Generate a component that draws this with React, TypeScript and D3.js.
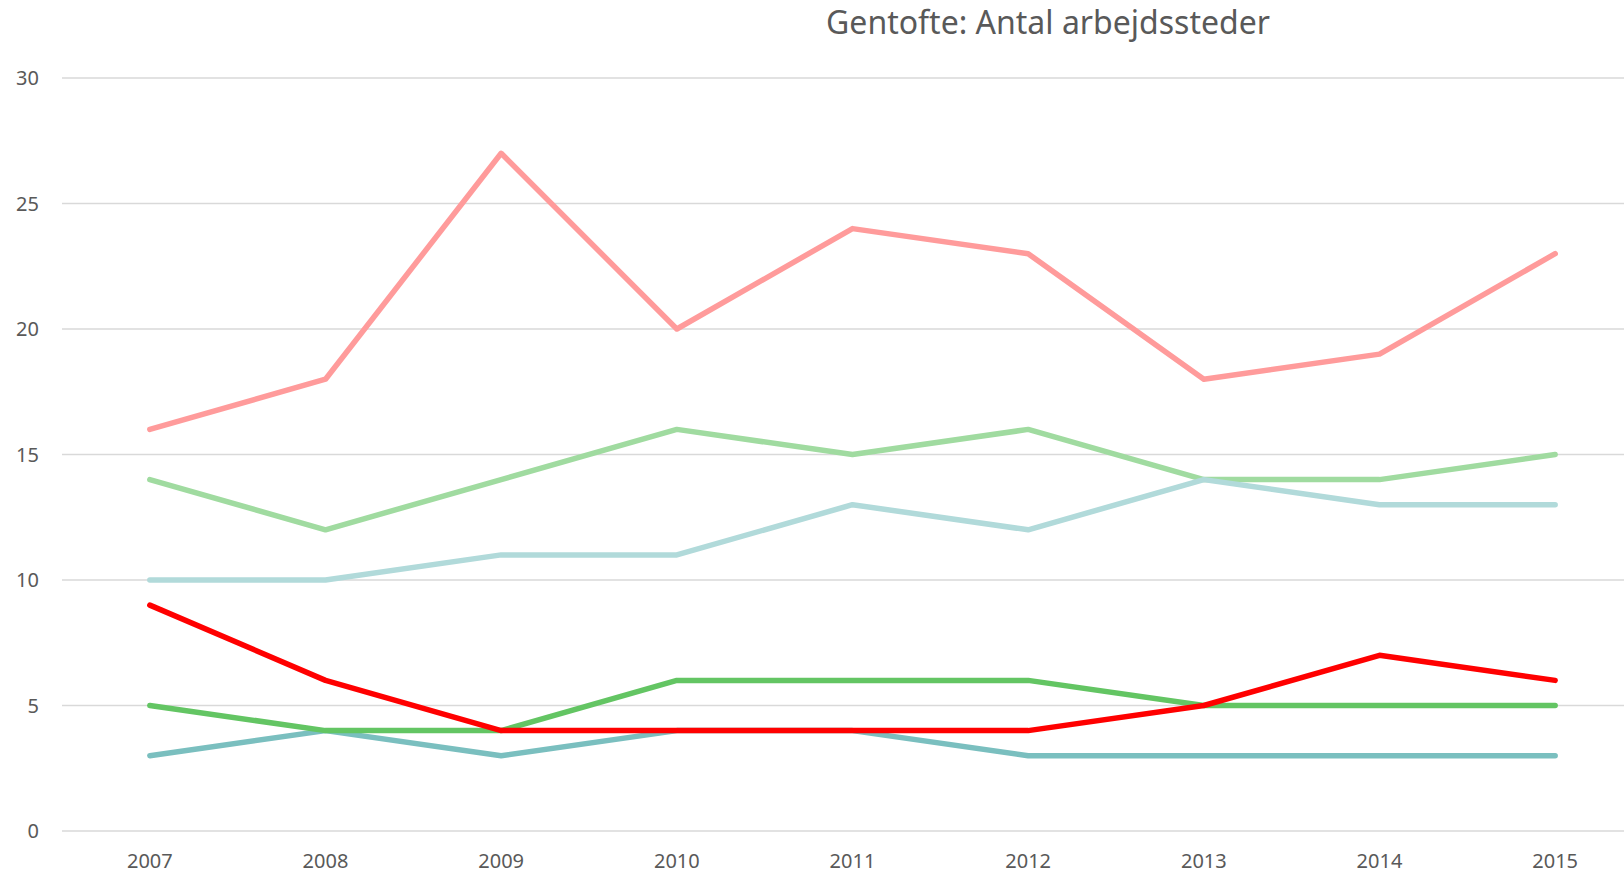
import * as d3 from 'd3'
import { useEffect, useRef } from 'react'

const years = ['2007', '2008', '2009', '2010', '2011', '2012', '2013', '2014', '2015']
const yTicks = [0, 5, 10, 15, 20, 25, 30]

const pinkSeries = [16, 18, 27, 20, 24, 23, 18, 19, 23]
const lightGreenSeries = [14, 12, 14, 16, 15, 16, 14, 14, 15]
const lightTealSeries = [10, 10, 11, 11, 13, 12, 14, 13, 13]
const tealSeries = [3, 4, 3, 4, 4, 3, 3, 3, 3]
const greenSeries = [5, 4, 4, 6, 6, 6, 5, 5, 5]
const redSeries = [9, 6, 4, 4, 4, 4, 5, 7, 6]

const seriesList = [
  { name: 'pink', values: pinkSeries, color: '#ff9b9b' },
  { name: 'lightGreen', values: lightGreenSeries, color: '#a0dba0' },
  { name: 'lightTeal', values: lightTealSeries, color: '#b1dada' },
  { name: 'teal', values: tealSeries, color: '#7abfbf' },
  { name: 'green', values: greenSeries, color: '#63c563' },
  { name: 'red', values: redSeries, color: '#ff0000' },
]

export default function App() {
  const svgRef = useRef(null)

  const width = 1624
  const height = 873
  const left = 62
  const right = 1643
  const top = 78
  const bottom = 831

  useEffect(() => {
    const svg = d3.select(svgRef.current)
    svg.selectAll('*').remove()

    const xScale = d3.scaleBand().domain(years).range([left, right])
    const yScale = d3.scaleLinear().domain([0, 30]).range([bottom, top])
    const xc = (d: string) => xScale(d)! + xScale.bandwidth() / 2

    // gridlines
    svg.append('g')
      .selectAll('line')
      .data(yTicks)
      .enter()
      .append('line')
      .attr('x1', left)
      .attr('x2', width)
      .attr('y1', d => yScale(d))
      .attr('y2', d => yScale(d))
      .style('stroke', '#d9d9d9')
      .style('stroke-width', 1.5)

    // y labels
    svg.append('g')
      .selectAll('text')
      .data(yTicks)
      .enter()
      .append('text')
      .attr('x', 39)
      .attr('y', d => yScale(d))
      .attr('dy', '0.35em')
      .attr('text-anchor', 'end')
      .style('font-family', '"Noto Sans", sans-serif')
      .style('font-size', '20px')
      .style('fill', '#595959')
      .text(d => d)

    // x labels
    svg.append('g')
      .selectAll('text')
      .data(years)
      .enter()
      .append('text')
      .attr('x', d => xc(d))
      .attr('y', 868)
      .attr('text-anchor', 'middle')
      .style('font-family', '"Noto Sans", sans-serif')
      .style('font-size', '20px')
      .style('fill', '#595959')
      .text(d => d)

    const line = d3.line<number>()
      .x((_, i) => xc(years[i]))
      .y(d => yScale(d))

    svg.append('g')
      .selectAll('path')
      .data(seriesList)
      .enter()
      .append('path')
      .attr('d', d => line(d.values))
      .style('fill', 'none')
      .style('stroke', d => d.color)
      .style('stroke-width', 5.5)
      .style('stroke-linecap', 'round')
      .style('stroke-linejoin', 'round')

    svg.append('text')
      .attr('x', 1048)
      .attr('y', 34)
      .attr('text-anchor', 'middle')
      .style('font-family', '"Noto Sans", sans-serif')
      .style('font-size', '32px')
      .style('fill', '#595959')
      .text('Gentofte: Antal arbejdssteder')
  }, [])

  return (
    <svg ref={svgRef} width={width} height={height}
      style={{ position: 'absolute', left: 0, top: 0, background: '#fff' }}>
    </svg>
  )
}
